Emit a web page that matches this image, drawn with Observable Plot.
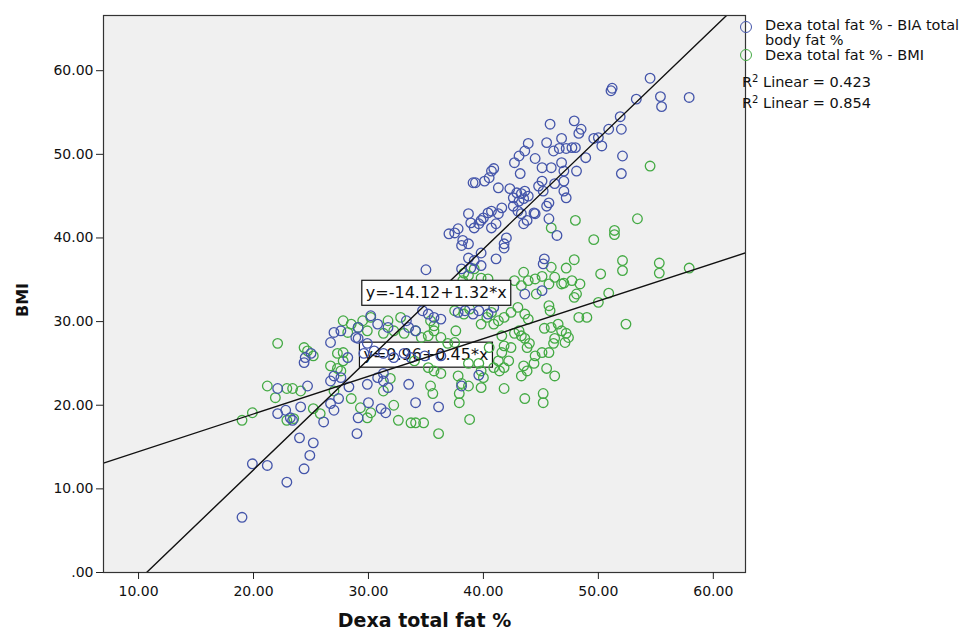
<!DOCTYPE html>
<html><head><meta charset="utf-8">
<script src="https://cdn.jsdelivr.net/npm/d3@7"></script>
<script src="https://cdn.jsdelivr.net/npm/@observablehq/plot@0.6"></script>
<style>
body{margin:0;background:#fff;font-family:"DejaVu Sans",sans-serif;}
#wrap{position:relative;width:972px;height:630px;}
.lg{position:absolute;font-size:14.5px;line-height:15px;color:#111;white-space:nowrap;}
.sym{position:absolute;width:12px;height:12px;border-radius:50%;border:1.4px solid;box-sizing:border-box;}
sup{font-size:10px;vertical-align:5px;line-height:0}
</style></head><body>
<div id="wrap"><div id="chart"></div>
<div class="sym" style="left:740px;top:21px;border-color:#4455aa"></div>
<div class="lg" style="left:765px;top:18px">Dexa total fat % - BIA total</div>
<div class="lg" style="left:765px;top:33px">body fat %</div>
<div class="sym" style="left:740px;top:49px;border-color:#44aa44"></div>
<div class="lg" style="left:765px;top:48px">Dexa total fat % - BMI</div>
<div class="lg" style="left:742px;top:75px">R<sup>2</sup> Linear = 0.423</div>
<div class="lg" style="left:742px;top:96px">R<sup>2</sup> Linear = 0.854</div>
</div>
<script>
// Dexa total fat % (x) vs BIA total body fat % (y)
const biaPoints = [
[54.5,59.1],[51.2,57.9],[51.1,57.6],[53.3,56.6],[55.4,56.9],[55.5,55.7],[57.9,56.8],[51.9,54.5],[52.0,53.0],[50.9,53.0],
[50.3,51.0],[49.6,51.9],[50.0,52.0],[48.5,53.0],[48.3,52.5],[47.9,54.0],[48.0,50.8],[47.7,50.8],[45.8,53.6],[46.8,51.9],
[45.5,51.4],[46.1,50.4],[46.6,50.7],[43.9,51.3],[43.6,50.4],[43.1,49.8],[42.7,49.0],[44.5,49.5],[45.1,48.4],[45.9,48.4],
[46.8,49.0],[48.1,48.0],[43.2,47.7],[40.7,48.0],[40.5,47.2],[40.1,46.8],[39.3,46.6],[41.3,46.0],[42.3,45.9],[42.9,45.4],
[43.3,45.3],[43.6,45.6],[42.6,44.8],[43.1,44.4],[43.5,44.7],[43.9,45.0],[45.1,46.8],[44.8,46.2],[45.2,45.6],[46.2,46.5],
[47.0,45.6],[47.2,44.8],[45.7,44.2],[45.5,43.8],[44.4,43.0],[43.3,42.9],[43.0,43.2],[42.6,43.8],[41.6,43.6],[41.3,42.9],
[40.7,43.2],[40.4,43.0],[40.0,42.4],[39.8,42.1],[39.6,41.7],[38.7,42.9],[38.9,41.8],[39.2,41.2],[37.8,41.1],[37.5,40.6],
[37.0,40.5],[38.2,39.7],[38.7,39.3],[38.1,39.1],[40.7,41.2],[41.1,41.7],[42.0,40.0],[41.8,38.8],[39.8,38.2],[41.1,37.5],
[38.7,37.6],[38.9,36.4],[38.1,36.3],[35.0,36.2],[52.1,49.8],[52.0,47.7],[45.3,37.5],[45.2,36.9],[45.1,33.7],[43.6,33.3],
[45.7,42.3],[46.4,40.3],[43.5,41.7],[43.8,42.1],[44.5,42.9],[41.8,39.3],[47.2,50.7],[48.9,49.6],[47.0,48.0],[47.0,46.8],
[39.1,46.6],[40.9,48.3],[39.2,37.3],[39.8,36.7],
[37.8,31.1],[38.4,31.3],[39.1,30.9],[39.6,31.3],[40.4,30.9],[40.9,31.7],[34.7,31.3],[35.2,30.9],[35.7,30.5],[36.3,30.3],
[30.2,30.7],[30.8,29.7],[31.7,29.3],[33.3,30.1],[33.5,29.3],[34.1,28.9],[28.9,28.1],[29.9,27.4],[29.1,29.3],[29.1,28.0],
[26.7,27.5],[27.0,28.7],[27.6,28.9],[28.2,25.7],[29.6,26.2],[30.5,26.5],[31.3,26.2],[32.2,25.7],[33.1,26.2],[33.7,25.7],
[34.9,25.9],[36.3,25.9],[24.4,25.1],[24.5,25.7],[25.0,26.2],[26.7,22.9],[27.0,23.5],[27.6,23.3],[30.8,23.3],[31.3,23.8],
[31.7,22.1],[28.3,22.2],[29.9,22.5],[31.3,22.9],[33.5,22.5],[22.1,22.0],[24.7,22.3],[24.1,19.8],[22.1,19.0],[22.8,19.4],
[23.2,18.5],[23.4,18.2],[27.0,19.4],[26.7,20.2],[27.4,20.8],[30.0,20.3],[31.1,19.6],[31.5,19.1],[34.1,20.3],[36.1,19.8],
[38.1,22.3],[39.6,23.6],[26.1,18.0],[29.1,18.5],[29.0,16.6],[24.0,16.1],[25.2,15.5],[24.9,14.0],[24.4,12.4],[22.9,10.8],
[19.9,13.0],[21.2,12.8],[19.0,6.6]
];
// Dexa total fat % (x) vs BMI (y)
const bmiPoints = [
[54.5,48.6],[53.4,42.3],[48.0,42.1],[51.4,40.9],[51.4,40.4],[49.6,39.8],[45.9,41.2],[52.1,37.3],[52.1,36.1],[55.3,37.0],
[55.3,35.8],[57.9,36.4],[50.2,35.7],[47.9,37.4],[47.2,36.4],[45.9,36.5],[46.2,35.3],[43.5,35.9],[44.5,35.1],[45.1,35.4],
[45.7,34.5],[47.0,34.6],[47.7,34.9],[48.4,34.5],[48.1,33.3],[47.9,32.9],[50.9,33.4],[50.0,32.3],[48.3,30.5],[49.0,30.5],
[52.4,29.7],[42.7,34.9],[43.3,34.3],[43.9,34.9],[44.6,33.3],[46.8,34.5],[45.7,31.9],[45.8,31.3],
[33.7,17.9],[34.1,17.9],[34.8,17.9],[36.1,16.6],[38.8,18.3],[37.9,20.3],[37.9,21.4],[38.1,22.6],[35.4,22.3],[35.6,21.4],
[38.7,22.3],[39.8,22.1],[40.0,23.3],[41.8,22.0],[43.6,20.8],[45.2,21.4],[45.2,20.3],[41.4,24.1],[41.8,24.5],[43.3,23.5],
[43.8,24.1],[43.5,24.7],[44.4,25.0],[44.5,25.9],[45.1,26.3],[45.5,24.4],[46.2,23.5],[45.7,26.3],[46.1,27.4],[46.2,28.0],
[46.8,28.9],[47.2,28.6],[47.1,27.5],[47.4,28.1],[45.3,29.2],[45.9,29.3],[46.5,29.7],[42.7,28.6],[43.1,28.9],[43.3,28.3],
[43.6,28.0],[44.0,27.4],[43.8,26.9],[41.6,28.3],[41.8,27.1],[42.4,26.9],[41.6,26.3],[41.3,25.3],[42.2,25.3],[40.3,30.5],
[40.7,31.1],[41.3,30.1],[41.8,30.5],[42.4,31.1],[43.0,31.7],[43.6,30.9],[43.9,30.3],[37.6,28.9],[37.5,31.3],[38.3,30.9],
[38.8,31.5],[35.7,28.9],[35.2,28.3],[34.6,28.1],[35.4,30.1],[35.7,29.5],[38.7,25.0],[39.6,25.0],[39.8,24.1],[37.8,23.5],
[38.3,35.8],[38.7,35.5],[38.2,34.9],[39.8,35.2],[40.4,35.1],[39.2,36.3],[35.2,24.5],[35.7,24.1],[36.3,23.8],
[27.8,30.1],[28.5,29.7],[29.1,29.3],[28.2,28.7],[29.5,30.1],
[22.1,27.4],[24.4,26.9],[24.7,26.5],[25.2,25.9],[21.2,22.3],[21.9,20.9],[22.9,22.0],[23.4,22.0],[24.1,21.7],[19.9,19.1],
[19.0,18.2],[22.9,18.2],[23.5,18.4],[25.2,19.6],[25.8,19.0],[26.7,24.7],[27.3,24.4],[27.8,25.3],[27.6,24.1],[28.5,20.8],
[29.3,19.7],[30.2,19.1],[29.9,18.5],[31.3,21.7],[32.2,20.0],[32.6,18.2],[29.9,28.9],[31.3,28.6],[32.2,28.9],[33.1,28.6],
[30.2,30.5],[31.7,30.1],[32.8,30.5],[34.0,25.3],[27.0,21.7],[31.9,23.2],[27.3,26.2],[27.8,26.3],
[36.9,27.4],[37.5,27.5],[39.8,29.7],[40.9,29.7],[36.3,28.1],[34.1,28.9],[40.9,24.5],[40.5,26.9]
];
// Fitted lines as printed on the chart
const fitSeries = ["BIA", "BMI"];
const fitIntercepts = [-14.12, 9.96];
const fitSlopes = [1.32, 0.45];
const fitLabels = ["y=-14.12+1.32*x", "y=9.96+0.45*x"];
const labelAtX = [35.9, 35.0];
const labelAtY = [33.4, 26.0];

const xTicks = [10, 20, 30, 40, 50, 60];
const yTicks = [0, 10, 20, 30, 40, 50, 60];
const xDomain = [6.95, 62.8];
const yDomain = [0, 66.6];

const blue = "#4455aa", green = "#44aa44";
const FONT = "'DejaVu Sans', sans-serif";

const lineData = fitSeries.flatMap((s, i) => xDomain.map(x => ({series: s, x, y: fitIntercepts[i] + fitSlopes[i] * x})));
const labelData = fitSeries.map((s, i) => ({series: s, x: labelAtX[i], y: labelAtY[i], text: fitLabels[i]}));

const chart = Plot.plot({
  width: 972, height: 630,
  marginLeft: 103, marginRight: 227, marginTop: 15, marginBottom: 58,
  style: {fontFamily: FONT, background: "#fff", color: "#111"},
  x: {domain: xDomain},
  y: {domain: yDomain},
  marks: [
    Plot.frame({fill: "#f0f0f0", stroke: "none"}),
    Plot.text(labelData.filter(d => d.series === "BMI"), {x: "x", y: "y", text: "text", fontSize: 16, fill: "#111"}),
    Plot.dot(bmiPoints, {x: d => d[0], y: d => d[1], r: 4.8, stroke: green, strokeWidth: 1.3, fill: "none"}),
    Plot.dot(biaPoints, {x: d => d[0], y: d => d[1], r: 4.8, stroke: blue, strokeWidth: 1.3, fill: "none"}),
    Plot.line(lineData, {x: "x", y: "y", z: "series", stroke: "#111", strokeWidth: 1.4, clip: true}),
    Plot.text(labelData.filter(d => d.series === "BIA"), {x: "x", y: "y", text: "text", fontSize: 16, fill: "#111"}),
    Plot.frame({stroke: "#333", strokeWidth: 1.2}),
    Plot.axisX({ticks: xTicks, tickFormat: d => d.toFixed(2), tickSize: 7, tickPadding: 7, fontSize: 14, label: null, stroke: "#222"}),
    Plot.axisY({ticks: yTicks, tickFormat: d => d === 0 ? ".00" : d.toFixed(2), tickSize: 7, tickPadding: 3, fontSize: 14, label: null, stroke: "#222"}),
    Plot.text(["BMI"], {frameAnchor: "left", textAnchor: "middle", dx: -81, dy: 6, rotate: -90, fontSize: 16, fontWeight: "bold", fill: "#111"}),
    Plot.text(["Dexa total fat %"], {frameAnchor: "bottom", dy: 54, fontSize: 19, fontWeight: "bold", fill: "#111"})
  ]
});
document.getElementById("chart").appendChild(chart);

// white boxes with black outline behind the equation labels
chart.querySelectorAll("text").forEach(t => {
  if (!fitLabels.includes(t.textContent)) return;
  const b = t.getBBox();
  const r = document.createElementNS("http://www.w3.org/2000/svg", "rect");
  r.setAttribute("x", b.x - 4);
  r.setAttribute("y", b.y - 3);
  r.setAttribute("width", b.width + 8);
  r.setAttribute("height", b.height + 6);
  r.setAttribute("fill", "#fff");
  r.setAttribute("stroke", "#111");
  r.setAttribute("stroke-width", "1.2");
  if (t.getAttribute("transform")) r.setAttribute("transform", t.getAttribute("transform"));
  t.parentNode.insertBefore(r, t);
});
</script>
</body></html>
